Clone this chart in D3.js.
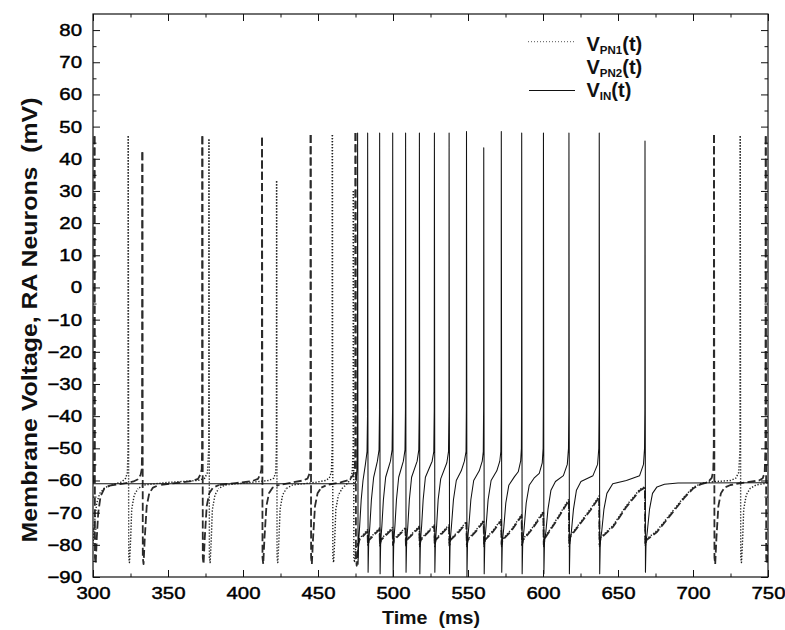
<!DOCTYPE html>
<html><head><meta charset="utf-8">
<script src="https://cdn.jsdelivr.net/npm/d3@7"></script>
<style>body{margin:0;background:#fff}</style>
</head><body>
<svg id="c" width="785" height="630"></svg>
<script>
// ---- data (time ms, membrane voltage mV) ----
const inTrace = [
[300,-61],[474.5,-61],[475.5,-60],[476.0,-56],[476.25,-45],[476.4,48],[476.7,-86],[477.1,-79],[477.8,-74],[478.8,-66],[480,-60],[481.6,-55],[482.7,-51],[483.0,-40],[483.1,48],
[483.4,-88.5],[483.8,-79],[484.6,-74],[485.6,-66],[487.1,-59],[489.6,-54],[490.7,-50.5],[491.0,-38],[491.1,48],
[491.4,-89],[491.8,-79],[492.6,-74],[493.6,-66],[495.1,-59],[498.3,-54],[499.4,-50.5],[499.7,-38],[499.8,48],
[500.1,-90],[500.5,-79],[501.3,-74],[502.3,-66],[503.8,-59],[506.9,-54],[508.0,-50.5],[508.3,-38],[508.4,48],
[508.7,-88.5],[509.1,-79],[509.9,-74],[510.9,-66],[512.4,-59],[516.1,-54],[517.2,-50.5],[517.5,-38],[517.6,48],
[517.9,-89],[518.3,-79],[519.1,-74],[520.1,-66],[521.6,-59],[526.1,-54],[527.2,-51],[527.5,-38],[527.6,48],
[527.9,-88.5],[528.3,-79],[529.1,-74],[530.1,-66],[531.8,-59.5],[535.9,-54.5],[537.0,-51],[537.3,-38],[537.4,48],
[537.7,-89],[538.1,-79],[539,-74],[540.3,-66],[542.2,-60],[545.5,-57],[547.6,-54],[548.7,-51],[548.9,-38],[549.0,48.5],
[549.3,-90],[549.7,-79],[550.6,-74],[551.9,-66],[553.8,-60],[557.5,-57],[559.5,-54],[560.2,-51],[560.4,-38],[560.5,43.4],
[560.8,-89],[561.2,-79],[562.1,-74],[563.4,-66],[565.4,-60],[569.2,-57],[571.2,-54],[571.9,-51],[572.1,-38],[572.2,48.5],
[572.5,-88.5],[572.9,-79],[573.8,-75],[575.2,-67],[577.2,-61.5],[581,-58.8],[583.5,-57.3],[585.1,-54],[585.6,-50],[585.7,-38],[585.8,48],
[586.1,-89],[586.5,-79],[587.4,-75],[588.8,-67],[590.8,-61.5],[594,-59.3],[597.5,-57.8],[599.5,-54.5],[600.1,-50],[600.2,-38],[600.3,48],
[600.6,-89],[601.0,-79],[601.9,-76],[603.3,-69],[605.3,-63],[608.3,-60.3],[613.6,-58.5],[616.2,-55],[617.0,-50],[617.2,-38],[617.3,48],
[617.6,-89],[618,-79],[618.9,-76],[620.3,-69],[622.3,-63],[625.3,-60.3],[633.3,-58.5],[636.4,-55],[637.2,-50],[637.4,-38],[637.5,48],
[637.8,-89],[638.2,-79],[639.1,-76],[640.6,-69],[642.6,-64],[646.5,-61],[655.6,-60],[664.4,-58.5],[667.0,-55],[667.7,-50],[667.9,-38],[668.0,45.5],
[668.3,-88.5],[668.7,-79],[669.5,-76],[671,-69],[673,-64],[676,-62],[681,-61.2],[690,-60.8],[750,-60.7]
];

const pn1Trace = [
[300,-80],[301,-73],[302.5,-67],[304.5,-64],[308,-62.2],[313,-61.3],[319,-60.5],[321.8,-59.3],[322.9,-57.5],[323.35,-50],[323.5,47],[323.8,-84],[324.3,-85.5],[325,-79],[325.8,-69],[327.5,-64.5],[330,-62.5],[334,-61.4],[350,-60.6],[370,-60],[374.5,-59.3],[376.3,-57.5],[377.15,-50],[377.3,46],[377.6,-84],[378.1,-85.5],[378.8,-79],[379.6,-69],[381.3,-64.5],[383.8,-62.5],[388,-61.4],[405,-60.6],[417,-60],[420.5,-59.3],[421.8,-57.5],[422.25,-50],[422.4,33],[422.7,-84],[423.2,-85.5],[423.9,-79],[424.7,-69],[426.4,-64.5],[428.9,-62.5],[433,-61.4],[448,-60.6],[455,-60],[457.5,-59.3],[458.9,-57.5],[459.45,-50],[459.6,47.4],[459.9,-84],[460.4,-85.5],[461.1,-79],[461.9,-69],[463.6,-64.5],[466.1,-62.5],[469,-61.2],[471.5,-59.8],[472.8,-57.5],[473.45,-50],[473.6,30],[473.9,-84],[474.4,-85.5],[475.1,-81],[476.4,-79.5],
[476.7,-80.5],[477.4,-78.2],[483.0,-75.3],
[483.3,-80.5],[484.0,-78.2],[491.0,-74.8],
[491.3,-80.5],[492.0,-78.2],[499.7,-74.6],
[500.0,-80.5],[500.7,-78.2],[508.3,-74.6],
[508.6,-80.5],[509.3,-78.2],[517.5,-74.2],
[517.8,-80.5],[518.5,-78.2],[527.5,-73.8],
[527.8,-80.5],[528.5,-78.2],[537.3,-73.8],
[537.6,-80.5],[538.3,-78.2],[543.5,-75.8],[548.9,-72.8],
[549.2,-80.5],[549.9,-78.2],[555,-75.6],[560.4,-72.4],
[560.7,-80.5],[561.4,-78.2],[566.5,-75.6],[572.1,-72.1],
[572.4,-80.5],[573.1,-78.2],[579,-75.2],[585.7,-70.6],
[586.0,-80.5],[586.7,-78.2],[593,-74.6],[600.2,-69.6],
[600.5,-80.5],[601.2,-77.7],[609,-72.1],[617.2,-65.8],
[617.5,-80.5],[618.2,-77.2],[626.7,-71.9],[632,-68.6],[637.4,-64.8],
[637.7,-80.5],[638.4,-77.7],[646.7,-74],[655.6,-67.8],[664.4,-62.8],[667.9,-61.9],
[668.2,-80.5],[669.0,-78.2],[676,-75.6],[682,-72.1],[688,-68.6],[694,-65.1],[700,-62.2],[705,-61],[710,-60.5],[725,-60],[728.5,-59.3],[730.5,-57.5],[731.35,-50],[731.5,47],[731.8,-84],[732.3,-85.5],[733,-79],[733.8,-69],[735.5,-64.5],[738,-62.5],[742,-61.4],[750,-60.8]
];

const pn2Trace = [
[300,-61],[300.4,-59.5],[300.7,-57],[300.85,-50],[301.0,47],[301.3,-84],[301.8,-86],[302.5,-78],[303.5,-70],[305,-65],[307.5,-62.5],[311,-61.6],[320,-61],[327,-60.3],[330,-59.6],[331.8,-58.2],[332.5,-56.5],[332.75,-50],[332.9,42],[333.2,-84],[333.7,-86],[334.5,-78],[335.8,-68],[337.5,-64],[340,-62.2],[344,-61.4],[355,-60.8],[366,-60.2],[370,-59.5],[371.8,-58],[372.5,-56.5],[372.75,-50],[372.9,47],[373.2,-84],[373.7,-86],[374.5,-78],[375.8,-68],[377.5,-64],[380,-62.2],[384,-61.4],[395,-60.8],[406,-60.2],[410,-59.5],[411.6,-58],[412.3,-56.5],[412.55,-50],[412.7,46.5],[413,-84],[413.5,-86],[414.3,-78],[415.6,-68],[417.3,-64],[419.8,-62.2],[423.8,-61.4],[432,-60.7],[440,-60],[443,-59.4],[444.2,-58],[444.8,-56.5],[444.95,-50],[445.1,47.4],[445.4,-84],[445.9,-86],[446.7,-78],[448,-68],[449.7,-64],[452.2,-62.2],[456.2,-61.4],[465,-60.6],[471,-59.8],[473.5,-58.3],[474.5,-56.5],[474.85,-50],[475.0,48],[475.3,-84],[475.8,-86.5],[476.4,-84],
[476.9,-80],[477.6,-78.5],[483.0,-75.8],
[483.3,-80],[484.0,-78.5],[491.0,-75.2],
[491.3,-80],[492.0,-78.5],[499.7,-75],
[500.0,-80],[500.7,-78.5],[508.3,-75],
[508.6,-80],[509.3,-78.5],[517.5,-74.6],
[517.8,-80],[518.5,-78.5],[527.5,-74.2],
[527.8,-80],[528.5,-78.5],[537.3,-74.2],
[537.6,-80],[538.3,-78.5],[543.5,-76.2],[548.9,-73.2],
[549.2,-80],[549.9,-78.5],[555,-76],[560.4,-72.8],
[560.7,-80],[561.4,-78.5],[566.5,-76],[572.1,-72.5],
[572.4,-80],[573.1,-78.5],[579,-75.6],[585.7,-71],
[586.0,-80],[586.7,-78.5],[593,-75],[600.2,-70],
[600.5,-80],[601.2,-78],[609,-72.5],[617.2,-66.2],
[617.5,-80],[618.2,-77.5],[626.7,-72.3],[632,-69],[637.4,-65.2],
[637.7,-80],[638.4,-78],[646.7,-74.4],[655.6,-68.2],[664.4,-63.2],[667.9,-62.2],
[668.2,-80],[669.0,-78.5],[676,-76],[682,-72.5],[688,-69],[694,-65.5],[700,-62.5],[705,-61.2],[710,-60.5],[712.5,-59.2],[713.5,-57],[713.85,-50],[714.0,47.4],[714.3,-84],[714.8,-86],[715.6,-78],[716.9,-68],[718.6,-64],[721,-62.2],[725,-61.4],[735,-60.6],[744,-60],[746.5,-59.3],[747.8,-57.5],[748.3,-50],[748.5,47],[748.8,-84],[749.3,-86],[750,-80]
];

const xTickValues = [300,350,400,450,500,550,600,650,700,750];
const xMinorValues = [325,375,425,475,525,575,625,675,725];
const yTickValues = [-90,-80,-70,-60,-50,-40,-30,-20,-10,0,10,20,30,40,50,60,70,80];
const yMinorValues = [-85,-75,-65,-55,-45,-35,-25,-15,-5,5,15,25,35,45,55,65,75];
const legendNames = [["PN1","dotted"],["PN2","dashed"],["IN","solid"]];
const xTitle = "Time\u00a0\u00a0(ms)";
const yTitle = "Membrane Voltage, RA Neurons\u00a0\u00a0(mV)";

// ---- drawing ----
const svg = d3.select("#c");
const FONT = "'Liberation Sans', Arial, Helvetica, sans-serif";
const x = d3.scaleLinear().domain([300, 750]).range([93, 768]);
const y = d3.scaleLinear().domain([-90, 85]).range([577, 14]);

svg.append("defs").append("clipPath").attr("id","clip")
  .append("rect").attr("x",x(300)).attr("y",y(85)).attr("width",x(750)-x(300)).attr("height",y(-90)-y(85));

const line = d3.line().x(d => x(d[0])).y(d => y(d[1]));
const plot = svg.append("g").attr("clip-path","url(#clip)");

// Split a trace into pieces that each start at a spike peak, so the dash
// pattern of the rising and falling strokes of a spike line up.
function piecesFromPeaks(trace){
  const peaks = [];
  trace.forEach((d,i) => { if (d[1] > 0) peaks.push(i); });
  const pieces = [];
  if (!peaks.length) return [trace];
  pieces.push(trace.slice(0, peaks[0]+1).reverse());
  for (let k = 0; k < peaks.length; k++){
    const p = peaks[k];
    const q = k+1 < peaks.length ? peaks[k+1] : null;
    if (q === null) { pieces.push(trace.slice(p)); break; }
    const m = Math.floor((p+q)/2);
    pieces.push(trace.slice(p, m+1));
    pieces.push(trace.slice(m, q+1).reverse());
  }
  return pieces;
}

function drawSeries(trace, stroke, width, dash){
  plot.append("g").selectAll("path").data(piecesFromPeaks(trace)).join("path")
    .attr("d", line).attr("fill","none").attr("stroke",stroke)
    .attr("stroke-width",width).attr("stroke-dasharray",dash)
    .attr("stroke-linecap","butt").attr("stroke-linejoin","round");
}
drawSeries(pn2Trace, "#2b2b2b", 1.8, "8,3.3");
drawSeries(pn1Trace, "#222", 1.4, "1.3,1.7");
plot.append("path").datum(inTrace).attr("d",line).attr("fill","none")
  .attr("stroke","#111").attr("stroke-width",1.05).attr("stroke-linejoin","round");

// axes with inward ticks
function styleAxis(g){ g.select(".domain").remove(); g.selectAll("line").attr("stroke","#111"); }
const gx = svg.append("g").attr("transform",`translate(0,${y(-90)})`)
  .call(d3.axisBottom(x).tickValues(xTickValues).tickSize(-7).tickPadding(10)).call(styleAxis);
gx.selectAll("text").attr("font-family",FONT).attr("font-size",17).attr("fill","#000")
  .attr("stroke","#000").attr("stroke-width",0.45)
  .attr("transform","scale(1.2,1)");
svg.append("g").attr("transform",`translate(0,${y(-90)})`)
  .call(d3.axisBottom(x).tickValues(xMinorValues).tickSize(-3.5).tickFormat("")).call(styleAxis);
svg.append("g").attr("transform",`translate(0,${y(85)})`)
  .call(d3.axisTop(x).tickValues(xTickValues).tickSize(-7).tickFormat("")).call(styleAxis);
svg.append("g").attr("transform",`translate(0,${y(85)})`)
  .call(d3.axisTop(x).tickValues(xMinorValues).tickSize(-3.5).tickFormat("")).call(styleAxis);

const gy = svg.append("g").attr("transform",`translate(${x(300)},0)`)
  .call(d3.axisLeft(y).tickValues(yTickValues).tickSize(-7).tickPadding(0)).call(styleAxis);
gy.selectAll("text").attr("font-family",FONT).attr("font-size",17).attr("fill","#000")
  .attr("stroke","#000").attr("stroke-width",0.45)
  .attr("x",0).attr("transform","translate(-11,0) scale(1.2,1)");
svg.append("g").attr("transform",`translate(${x(300)},0)`)
  .call(d3.axisLeft(y).tickValues(yMinorValues).tickSize(-3.5).tickFormat("")).call(styleAxis);
svg.append("g").attr("transform",`translate(${x(750)},0)`)
  .call(d3.axisRight(y).tickValues(yTickValues).tickSize(-7).tickFormat("")).call(styleAxis);
svg.append("g").attr("transform",`translate(${x(750)},0)`)
  .call(d3.axisRight(y).tickValues(yMinorValues).tickSize(-3.5).tickFormat("")).call(styleAxis);

// frame
svg.append("rect").attr("x",x(300)).attr("y",y(85)).attr("width",x(750)-x(300)).attr("height",y(-90)-y(85))
  .attr("fill","none").attr("stroke","#111").attr("stroke-width",1.2);

// titles
svg.append("text").attr("x",431).attr("y",624).attr("text-anchor","middle")
  .attr("font-family",FONT).attr("font-weight","bold").attr("font-size",19).attr("fill","#111")
  .attr("textLength",98).attr("lengthAdjust","spacingAndGlyphs").text(xTitle);
svg.append("text").attr("transform","translate(37,320) rotate(-90)").attr("text-anchor","middle")
  .attr("font-family",FONT).attr("font-weight","bold").attr("font-size",22).attr("fill","#111")
  .attr("textLength",445).attr("lengthAdjust","spacingAndGlyphs").text(yTitle);

// legend
const legY = [50.7, 73.5, 96.5];
legendNames.forEach((d,i) => {
  const t = svg.append("text").attr("x",586.5).attr("y",legY[i])
    .attr("font-family",FONT).attr("font-weight","bold").attr("font-size",20).attr("fill","#111");
  t.append("tspan").text("V");
  t.append("tspan").attr("font-size",11.5).attr("dy",3).text(d[0]);
  t.append("tspan").attr("dy",-3).text("(t)");
  if (d[1] === "dotted") {
    svg.append("line").attr("x1",528).attr("x2",575).attr("y1",legY[i]-9).attr("y2",legY[i]-9)
      .attr("stroke","#555").attr("stroke-width",1).attr("stroke-dasharray","1,2");
  } else if (d[1] === "solid") {
    svg.append("line").attr("x1",529).attr("x2",575).attr("y1",legY[i]-6).attr("y2",legY[i]-6)
      .attr("stroke","#111").attr("stroke-width",1.2);
  }
});
</script>
</body></html>
